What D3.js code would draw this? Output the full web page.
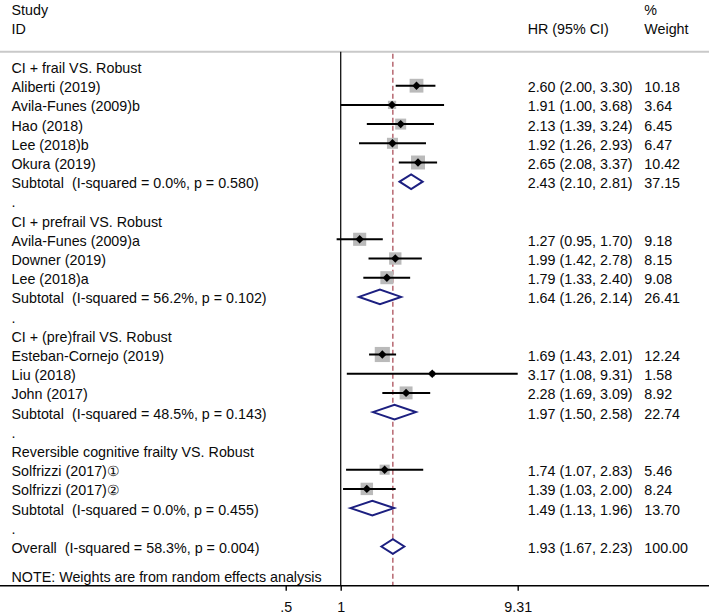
<!DOCTYPE html>
<html>
<head>
<meta charset="utf-8">
<script src="https://cdn.jsdelivr.net/npm/d3@7"></script>
<style>
  html, body { margin: 0; padding: 0; background: #fff; }
  svg text { font-family: "Liberation Sans", Arial, Helvetica, sans-serif; font-size: 14.3px; fill: #0a0a0a; white-space: pre; }
</style>
</head>
<body>
<svg id="chart" width="709" height="616"></svg>
<script>
// ---- data ----
const groupNames = [
  "CI + frail VS. Robust",
  "CI + prefrail VS. Robust",
  "CI + (pre)frail VS. Robust",
  "Reversible cognitive frailty VS. Robust"
];
const studyNames = [
  "Aliberti (2019)", "Avila-Funes (2009)b", "Hao (2018)", "Lee (2018)b", "Okura (2019)",
  "Avila-Funes (2009)a", "Downer (2019)", "Lee (2018)a",
  "Esteban-Cornejo (2019)", "Liu (2018)", "John (2017)",
  "Solfrizzi (2017)\u2460", "Solfrizzi (2017)\u2461"
];
const studyGroup = [0, 0, 0, 0, 0, 1, 1, 1, 2, 2, 2, 3, 3];
const studyHR = [2.60, 1.91, 2.13, 1.92, 2.65, 1.27, 1.99, 1.79, 1.69, 3.17, 2.28, 1.74, 1.39];
const studyLo = [2.00, 1.00, 1.39, 1.26, 2.08, 0.95, 1.42, 1.33, 1.43, 1.08, 1.69, 1.07, 1.03];
const studyHi = [3.30, 3.68, 3.24, 2.93, 3.37, 1.70, 2.78, 2.40, 2.01, 9.31, 3.09, 2.83, 2.00];
const studyWeight = [10.18, 3.64, 6.45, 6.47, 10.42, 9.18, 8.15, 9.08, 12.24, 1.58, 8.92, 5.46, 8.24];

const subI2 = ["0.0%", "56.2%", "48.5%", "0.0%"];
const subP = ["0.580", "0.102", "0.143", "0.455"];
const subHR = [2.43, 1.64, 1.97, 1.49];
const subLo = [2.10, 1.26, 1.50, 1.13];
const subHi = [2.81, 2.14, 2.58, 1.96];
const subWeight = [37.15, 26.41, 22.74, 13.70];

const overallI2 = "58.3%";
const overallP = "0.004";
const overallHR = 1.93;
const overallLo = 1.67;
const overallHi = 2.23;
const overallWeight = 100.00;

const axisTicks = [0.5, 1, 9.31];
const axisTickLabels = [".5", "1", "9.31"];
const noteText = "NOTE: Weights are from random effects analysis";

// ---- build rows ----
const rows = [];
groupNames.forEach((g, gi) => {
  rows.push({ type: "group", label: g });
  studyNames.forEach((s, i) => {
    if (studyGroup[i] === gi) {
      rows.push({ type: "study", label: s, hr: studyHR[i], lo: studyLo[i], hi: studyHi[i], w: studyWeight[i] });
    }
  });
  rows.push({ type: "sub", label: "Subtotal  (I-squared = " + subI2[gi] + ", p = " + subP[gi] + ")",
              hr: subHR[gi], lo: subLo[gi], hi: subHi[gi], w: subWeight[gi] });
  rows.push({ type: "dot", label: "." });
});
rows.push({ type: "sub", label: "Overall  (I-squared = " + overallI2 + ", p = " + overallP + ")",
            hr: overallHR, lo: overallLo, hi: overallHi, w: overallWeight });

// ---- scales ----
const W = 709, H = 616;
const xMax = 9.31;
const x = d3.scaleLog().domain([1 / xMax, xMax]).range([163.7, 517.7]);
const y = d3.scaleLinear().domain([0, rows.length - 1]).range([66.5, 546.5]);
const boxSide = d3.scaleSqrt().domain([0, 10.18]).range([0, 13.8]);
const f2 = d3.format(".2f");

const topY = 51.7, axisY = 585.7;
const svg = d3.select("#chart");

// header
svg.append("text").attr("x", 11.5).attr("y", 15).text("Study");
svg.append("text").attr("x", 11.5).attr("y", 34).text("ID");
svg.append("text").attr("x", 527.7).attr("y", 34).text("HR (95% CI)");
svg.append("text").attr("x", 644.3).attr("y", 15).text("%");
svg.append("text").attr("x", 644.3).attr("y", 34).text("Weight");

svg.append("line").attr("x1", 0).attr("x2", W).attr("y1", topY).attr("y2", topY)
  .attr("stroke", "#c9c9c9").attr("stroke-width", 2);

// null line at 1
svg.append("line").attr("x1", x(1)).attr("x2", x(1)).attr("y1", topY).attr("y2", axisY)
  .attr("stroke", "#111").attr("stroke-width", 1.3);

// overall dashed line
svg.append("line").attr("x1", x(overallHR)).attr("x2", x(overallHR)).attr("y1", topY + 2).attr("y2", axisY)
  .attr("stroke", "#a5414d").attr("stroke-width", 1.2).attr("stroke-dasharray", "5,3");

// labels
rows.forEach((r, i) => {
  const ty = y(i) + 6.5;
  svg.append("text").attr("x", 11.5).attr("y", ty).text(r.label);
  if (r.hr !== undefined) {
    svg.append("text").attr("x", 527.7).attr("y", ty)
      .text(f2(r.hr) + " (" + f2(r.lo) + ", " + f2(r.hi) + ")");
    svg.append("text").attr("x", 644.3).attr("y", ty).text(f2(r.w));
  }
});

// study boxes
const studyRows = rows.map((r, i) => Object.assign({ i }, r)).filter(r => r.type === "study");
svg.append("g").selectAll("rect").data(studyRows).join("rect")
  .attr("x", d => x(d.hr) - boxSide(d.w) / 2)
  .attr("y", d => y(d.i) - boxSide(d.w) / 2)
  .attr("width", d => boxSide(d.w))
  .attr("height", d => boxSide(d.w))
  .attr("fill", "#bababa");

// CI lines
svg.append("g").selectAll("line").data(studyRows).join("line")
  .attr("x1", d => x(d.lo)).attr("x2", d => x(d.hi))
  .attr("y1", d => y(d.i)).attr("y2", d => y(d.i))
  .attr("stroke", "#000").attr("stroke-width", 2);

// point estimates
const pd = 4.2;
svg.append("g").selectAll("path").data(studyRows).join("path")
  .attr("d", d => {
    const cx = x(d.hr), cy = y(d.i);
    return `M${cx - pd},${cy}L${cx},${cy - pd}L${cx + pd},${cy}L${cx},${cy + pd}Z`;
  })
  .attr("fill", "#000");

// subtotal / overall diamonds
const subRows = rows.map((r, i) => Object.assign({ i }, r)).filter(r => r.type === "sub");
const dh = 7.3;
svg.append("g").selectAll("path").data(subRows).join("path")
  .attr("d", d => {
    const cy = y(d.i);
    return `M${x(d.lo)},${cy}L${x(d.hr)},${cy - dh}L${x(d.hi)},${cy}L${x(d.hr)},${cy + dh}Z`;
  })
  .attr("fill", "#fff").attr("stroke", "#1c1f80").attr("stroke-width", 2)
  .attr("stroke-linejoin", "miter");

// note
svg.append("text").attr("x", 11.5).attr("y", 581.5).text(noteText);

// axis
svg.append("line").attr("x1", 0).attr("x2", W).attr("y1", axisY).attr("y2", axisY)
  .attr("stroke", "#000").attr("stroke-width", 1.4);
const axisG = svg.append("g").attr("transform", `translate(0,${axisY})`)
  .call(d3.axisBottom(x).tickValues(axisTicks)
    .tickFormat((d, i) => axisTickLabels[i]).tickSize(5).tickSizeOuter(0).tickPadding(11));
axisG.select(".domain").remove();
axisG.selectAll(".tick line").attr("stroke", "#000").attr("stroke-width", 1.4);
axisG.selectAll(".tick text").attr("font-size", 14.3).attr("fill", "#0a0a0a")
  .attr("font-family", "Liberation Sans, Arial, sans-serif");
</script>
</body>
</html>
